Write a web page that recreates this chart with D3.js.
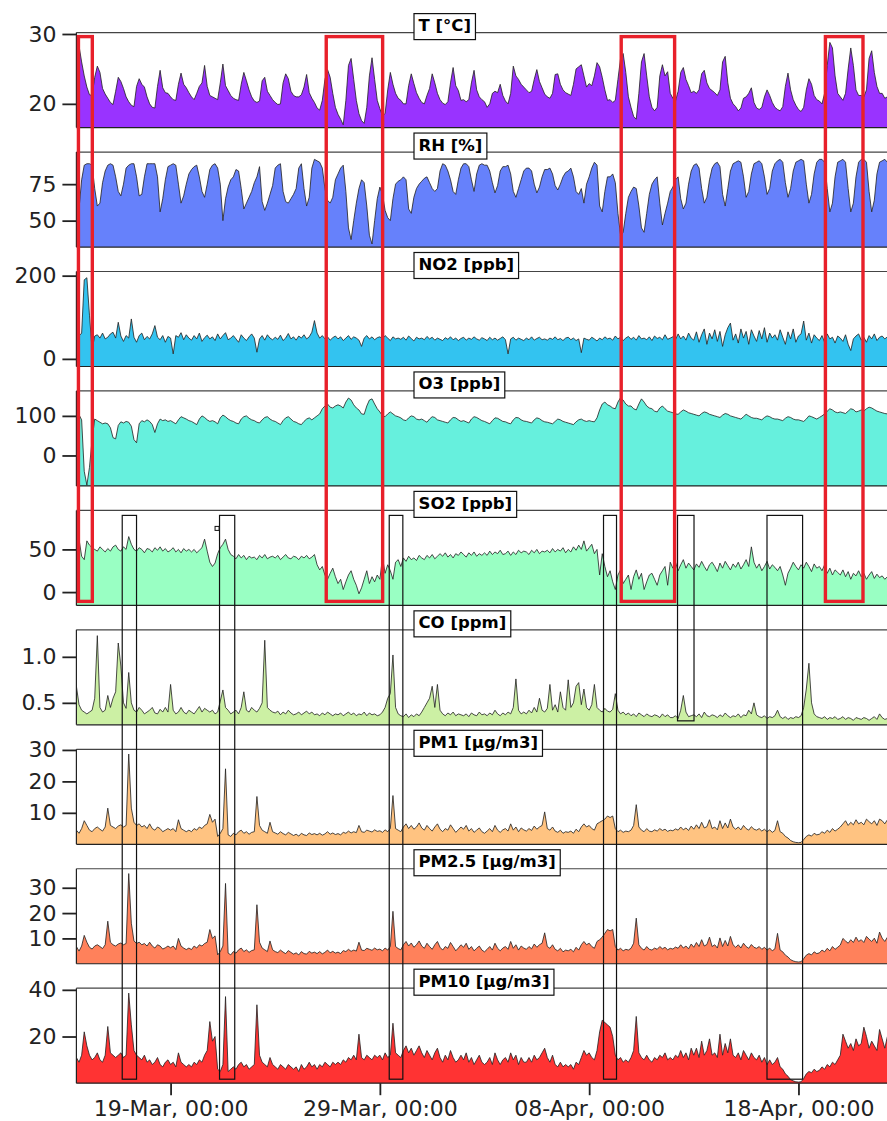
<!DOCTYPE html>
<html><head><meta charset="utf-8">
<script src="https://cdn.jsdelivr.net/npm/d3@7"></script>
<style>
body{margin:0;background:#fff;}
svg{display:block;font-family:"DejaVu Sans",sans-serif;}
</style></head><body>
<svg id="chart" width="887" height="1121"></svg>
<script>
// ---- time base: 3-hourly samples starting 14-Mar 12:00 ----
const startISO = "2023-03-14T12:00:00Z";
const stepHours = 3;
const endISO = "2023-04-22T06:00:00Z";

// ---- series values (3-hourly) ----
const T = [
29.5,28.3,26.0,24.0,
22.4,21.3,21.2,23.8,25.4,24.5,22.2,21.4,
20.8,20.2,19.9,21.8,23.8,23.2,22.2,21.0,
20.3,19.8,19.6,22.5,23.6,22.8,22.4,21.0,
20.0,19.5,19.4,22.5,24.8,22.3,21.6,21.5,
21.0,20.6,20.5,22.8,24.4,22.8,22.3,21.6,
21.0,20.6,21.5,22.5,23.0,25.5,22.5,21.2,
21.0,20.8,20.6,23.0,25.7,22.6,21.9,21.2,
20.8,20.6,20.5,22.8,24.5,23.3,22.0,21.0,
20.4,20.2,20.4,23.3,23.8,21.8,21.2,20.6,
20.2,19.9,20.0,23.0,24.3,23.6,21.8,21.2,
21.0,21.0,21.3,22.4,24.2,21.6,20.8,20.2,
19.4,19.1,20.5,23.5,24.9,23.8,21.5,19.5,
18.5,17.8,17.0,20.5,25.5,26.5,23.5,20.5,
18.6,17.6,17.2,19.5,24.0,26.6,23.5,20.5,
19.3,18.3,18.6,22.0,24.5,22.8,21.5,20.8,
20.5,20.0,20.0,22.6,24.3,22.9,21.6,20.8,
20.2,20.0,21.2,22.2,24.3,23.0,21.5,20.6,
20.1,19.9,20.3,23.0,25.2,22.6,21.9,20.5,
20.6,20.3,20.6,23.0,24.8,22.0,21.0,20.6,
20.3,19.5,20.0,21.5,21.8,21.6,22.8,21.2,
20.4,20.0,21.5,25.4,24.0,23.5,22.8,22.4,
22.0,21.6,21.8,23.5,24.9,23.2,22.3,21.4,
21.0,20.8,21.5,24.2,24.3,22.8,22.0,21.6,
21.4,21.2,22.8,25.0,25.3,25.6,24.0,22.4,
22.9,22.6,24.0,25.9,25.3,23.8,22.0,20.5,
20.6,20.2,20.5,23.5,26.5,27.2,24.5,21.0,
19.5,18.2,17.8,21.5,26.0,27.2,24.0,21.0,
19.5,19.0,19.5,24.0,25.6,24.0,24.6,21.5,
20.8,20.4,21.8,24.5,25.2,23.5,22.6,21.6,
21.8,21.5,22.0,24.3,24.8,23.0,22.2,21.9,
21.6,21.2,22.0,26.0,26.8,23.0,20.8,20.0,
19.6,19.0,19.4,20.8,21.0,21.5,22.3,20.2,
19.4,19.2,19.5,21.0,22.0,21.2,20.2,19.5,
19.2,19.0,19.6,22.5,24.4,22.0,20.6,19.8,
19.2,18.9,19.5,22.0,23.6,22.8,21.2,20.6,
20.4,20.0,21.5,25.5,28.8,28.0,24.0,21.5,
21.0,20.5,21.5,25.0,28.0,25.5,22.0,21.2,
21.2,21.0,22.0,26.5,27.6,24.5,22.5,21.5,
21.5,20.8,21.0];

const RH = [
50,58,78,88,
89,89,88,72,60,62,76,84,
88,89,88,80,70,67,75,86,
88,89,89,80,67,68,80,89,
89,89,89,80,56,65,78,87,
88,89,88,75,62,67,75,82,
85,87,88,80,70,66,75,85,
88,89,86,75,50,65,73,78,
80,85,84,72,58,62,66,70,
76,80,87,63,57,62,68,74,
86,88,89,70,63,62,65,68,
72,86,89,72,60,66,86,92,
91,90,86,72,64,62,66,78,
82,86,88,70,45,37,50,62,
72,78,76,60,40,34,50,65,
73,68,57,52,50,65,75,77,
78,80,78,58,55,66,72,75,
77,79,80,76,72,70,72,84,
89,88,84,78,70,68,78,86,
89,89,87,78,70,82,88,89,
88,88,84,76,69,74,84,87,
87,88,82,70,66,72,78,84,
86,86,84,75,69,73,80,85,
85,86,82,74,71,75,80,83,
84,86,80,70,68,72,62,75,
80,86,90,88,60,56,70,80,
80,82,76,55,40,42,55,66,
70,73,72,60,45,42,55,68,
75,78,80,62,47,55,62,70,
73,78,80,65,58,62,75,84,
88,89,86,72,62,66,78,86,
89,90,87,68,60,72,84,89,
90,91,90,80,66,70,82,89,
90,91,89,80,68,72,84,89,
91,92,90,76,66,72,84,90,
91,92,91,75,62,68,82,90,
92,92,90,72,56,62,80,90,
91,92,90,72,56,62,80,90,
92,92,90,70,56,64,82,90,
91,92,90];

const NO2 = [
35,55,62,190,
195,105,22,55,58,50,62,48,
52,60,64,50,88,55,42,56,
50,96,52,40,56,62,46,54,
48,60,80,52,46,56,40,54,
50,12,56,52,63,46,58,50,
45,56,48,62,42,51,57,48,
53,44,60,48,56,63,46,50,
56,48,40,58,50,44,53,60,
50,16,48,56,45,58,50,46,
52,47,57,44,50,61,48,53,
45,55,50,58,48,53,64,92,
62,50,56,48,53,45,51,55,
48,53,44,50,56,47,53,50,
45,30,50,56,48,53,46,51,
53,48,56,50,44,53,48,50,
47,52,45,55,49,43,52,48,
50,46,54,48,52,45,50,47,
44,51,47,53,46,50,44,49,
52,45,50,47,53,48,45,51,
48,44,52,46,50,45,49,53,
46,12,48,52,45,50,47,44,
50,46,53,45,49,52,46,48,
45,50,47,53,46,49,44,50,
52,46,50,44,48,15,50,47,
45,52,48,43,50,46,53,48,
50,45,55,48,52,44,50,54,
47,52,45,56,48,50,46,53,
44,55,49,52,46,58,47,50,
53,46,60,48,55,45,62,50,
45,65,40,58,72,35,62,48,
70,42,66,30,58,75,86,45,
60,38,72,50,66,35,70,55,
42,68,48,75,40,62,50,58,
45,70,52,35,65,48,72,40,
55,60,91,45,62,38,58,50,
44,56,40,60,48,52,38,55,
50,42,58,35,20,48,55,60,
45,52,40,56,48,60,44,52,
55,48,53];

const O3 = [
100,103,90,-40,
-75,-30,40,92,88,84,80,82,
80,70,45,42,76,85,82,86,
84,74,40,32,80,88,85,90,
86,78,58,80,92,88,90,86,
88,84,80,90,98,95,92,88,
86,82,78,92,100,96,90,86,
88,85,80,95,102,98,92,88,
86,82,80,92,98,100,94,90,
88,84,82,90,96,98,92,88,
86,82,78,88,95,98,92,86,
84,80,78,86,92,95,90,95,
100,105,118,125,130,122,120,125,
128,125,120,135,145,140,128,120,
115,105,104,125,140,143,130,118,
110,100,98,105,110,105,100,98,
95,90,88,95,100,98,92,90,
92,88,84,92,98,96,90,88,
86,84,82,90,96,95,90,86,
88,85,82,92,98,96,92,88,
86,83,80,88,95,94,90,86,
85,82,80,90,96,95,90,87,
86,84,82,90,95,93,88,85,
84,82,80,86,92,90,86,84,
82,80,78,85,90,92,88,86,
88,86,85,95,115,130,135,128,
125,120,118,135,146,140,130,125,
125,118,115,130,143,135,125,120,
118,112,110,120,125,118,112,110,
108,105,104,110,115,112,108,106,
104,102,100,106,110,108,104,102,
100,98,96,102,106,104,100,98,
96,94,92,98,104,100,96,94,
94,92,90,96,100,98,94,92,
92,90,88,94,98,96,92,90,
90,88,86,92,100,98,95,92,
96,100,105,112,118,115,110,108,
110,108,106,112,118,116,110,112,
115,112,118,122,120,116,112,110,
108,106,105];

const SO2 = [
83,62,42,38,
60,55,52,50,48,53,50,47,
51,48,53,55,50,48,53,50,
65,56,50,48,52,50,46,51,
50,47,52,49,53,48,51,47,
49,52,47,50,46,51,48,50,
47,50,46,49,52,62,48,35,
30,34,45,52,56,62,50,44,
42,39,44,40,43,38,42,40,
41,38,43,40,44,39,41,42,
40,43,38,41,44,40,39,42,
41,38,42,40,43,39,41,44,
32,26,30,20,15,22,28,18,
10,15,3,12,20,25,15,8,
-2,5,15,25,10,18,12,20,
15,40,22,32,25,15,35,38,
30,40,36,42,38,40,37,43,
40,38,43,40,44,39,42,45,
42,46,41,44,40,45,43,47,
44,41,46,43,47,42,45,43,
46,43,48,44,47,45,49,44,
45,48,43,47,44,49,46,48,
47,44,49,46,50,45,48,47,
49,46,51,47,50,48,52,46,
50,47,53,49,55,50,60,48,
52,56,45,50,20,45,30,18,
25,12,3,20,26,10,15,20,
3,18,26,15,22,3,12,20,
22,15,8,20,25,30,8,35,
28,35,25,32,38,28,34,30,
26,33,29,36,30,25,32,35,
30,24,34,28,36,31,26,33,
29,35,27,32,38,30,53,35,
28,33,25,30,36,27,32,29,
25,30,20,8,22,28,35,30,
26,32,28,35,30,24,33,28,
30,25,32,22,28,20,26,23,
20,26,18,24,15,22,19,25,
18,22,15,20,24,16,21,17,
19,15,18];

const CO = [
0.68,0.48,0.42,0.40,
0.38,0.40,0.42,0.55,1.23,0.45,0.40,0.42,
0.58,0.45,0.55,0.62,1.15,0.90,0.50,0.44,
0.83,0.50,0.42,0.40,0.45,0.42,0.38,0.40,
0.42,0.45,0.39,0.38,0.43,0.40,0.45,0.40,
0.70,0.42,0.38,0.40,0.45,0.40,0.38,0.42,
0.40,0.38,0.42,0.46,0.40,0.44,0.42,0.40,
0.42,0.38,0.40,0.52,0.64,0.45,0.42,0.38,
0.40,0.42,0.38,0.45,0.62,0.42,0.40,0.45,
0.42,0.40,0.44,0.50,1.18,0.45,0.42,0.40,
0.39,0.41,0.37,0.40,0.38,0.42,0.39,0.37,
0.38,0.40,0.37,0.39,0.41,0.38,0.40,0.37,
0.38,0.36,0.39,0.37,0.40,0.38,0.36,0.38,
0.37,0.39,0.36,0.38,0.40,0.37,0.39,0.36,
0.38,0.37,0.40,0.36,0.39,0.37,0.38,0.36,
0.37,0.40,0.45,0.55,0.60,1.02,0.45,0.38,
0.36,0.35,0.38,0.34,0.37,0.35,0.38,0.36,
0.40,0.45,0.50,0.55,0.68,0.45,0.70,0.42,
0.38,0.36,0.39,0.37,0.40,0.36,0.38,0.37,
0.36,0.38,0.35,0.39,0.37,0.36,0.40,0.37,
0.38,0.36,0.39,0.37,0.42,0.38,0.36,0.39,
0.37,0.40,0.38,0.45,0.76,0.42,0.38,0.40,
0.38,0.42,0.39,0.45,0.40,0.55,0.42,0.40,
0.44,0.70,0.42,0.48,0.40,0.62,0.45,0.42,
0.75,0.45,0.50,0.68,0.72,0.48,0.65,0.45,
0.42,0.48,0.70,0.45,0.42,0.40,0.44,0.41,
0.40,0.43,0.60,0.42,0.38,0.40,0.37,0.39,
0.36,0.38,0.35,0.39,0.37,0.35,0.38,0.36,
0.35,0.37,0.36,0.34,0.38,0.35,0.37,0.34,
0.34,0.36,0.33,0.42,0.58,0.40,0.35,0.36,
0.37,0.35,0.38,0.34,0.40,0.36,0.35,0.37,
0.36,0.34,0.37,0.35,0.39,0.36,0.34,0.36,
0.35,0.38,0.34,0.37,0.36,0.42,0.38,0.50,
0.37,0.35,0.34,0.36,0.33,0.35,0.34,0.36,
0.42,0.35,0.33,0.35,0.32,0.34,0.33,0.35,
0.34,0.36,0.45,0.65,0.93,0.50,0.38,0.35,
0.34,0.33,0.35,0.32,0.34,0.33,0.35,0.32,
0.33,0.35,0.32,0.34,0.33,0.31,0.34,0.33,
0.32,0.34,0.33,0.31,0.33,0.35,0.32,0.38,
0.34,0.32,0.33];

const PM1 = [
4.5,3.5,5.0,7.5,
6.0,4.5,4.0,5.0,5.5,4.8,4.2,5.5,
11.5,6.0,5.5,5.0,5.8,6.2,5.5,6.0,
28.7,11.5,7.0,6.0,6.5,5.5,6.0,5.0,
6.5,5.0,4.5,5.5,5.0,4.0,4.5,5.0,
4.5,5.0,4.0,7.8,5.0,4.5,4.0,4.5,
4.0,5.0,4.5,5.5,5.0,6.0,6.5,9.5,
7.0,8.0,2.5,3.5,5.0,24.0,3.0,2.5,
3.5,3.0,4.0,4.5,3.5,4.0,3.2,3.8,
4.0,15.2,6.0,4.5,4.0,3.5,7.0,4.0,
3.6,3.2,4.0,3.4,3.0,3.8,3.3,2.8,
3.2,2.6,3.5,3.0,2.8,3.6,3.1,3.4,
3.0,3.5,2.9,3.3,4.0,3.2,3.6,3.1,
3.4,3.0,3.8,3.5,4.2,3.6,4.0,3.7,
6.0,4.0,3.8,4.5,4.2,3.9,4.6,4.1,
4.3,3.8,4.6,4.0,5.0,15.5,5.0,4.5,
4.0,5.5,6.5,5.0,6.0,4.8,5.5,6.8,
5.2,4.5,6.0,5.0,4.2,5.5,6.5,4.8,
4.0,5.0,4.5,6.2,5.0,3.8,4.6,5.5,
4.8,6.0,4.2,5.0,3.8,4.5,5.2,4.0,
3.5,4.2,5.0,4.0,6.0,4.5,3.8,4.6,
5.0,4.2,6.5,4.5,5.5,4.0,5.2,4.6,
4.2,5.0,4.4,5.8,4.8,5.5,6.0,10.3,
5.0,4.5,5.5,4.2,3.8,4.5,3.5,4.0,
3.8,4.2,3.5,4.8,4.0,5.5,6.5,5.5,
6.0,5.0,4.5,6.5,7.0,7.5,8.0,9.0,
8.5,9.0,5.0,4.0,4.5,3.8,4.2,4.0,
4.5,6.0,12.6,5.5,4.5,4.0,5.0,4.2,
4.0,4.6,4.2,5.0,4.4,4.8,4.1,4.5,
4.3,4.9,4.5,5.5,4.6,5.2,4.4,5.8,
4.8,6.2,5.0,7.0,5.2,5.6,7.8,5.0,
5.5,4.6,7.5,5.0,6.8,5.2,8.0,5.5,
4.8,5.5,4.6,6.0,5.0,4.5,5.6,4.8,
4.5,5.0,4.2,4.8,4.0,4.6,3.8,4.4,
7.5,4.0,3.5,2.5,2.0,1.2,0.8,0.6,
0.5,0.6,1.5,2.5,3.0,2.6,3.5,3.0,
3.2,4.0,3.5,4.5,3.8,5.0,4.2,4.8,
5.5,6.5,7.5,6.0,7.0,6.2,7.8,6.5,
7.0,6.2,8.0,7.2,6.5,7.5,6.0,8.0,
7.5,6.5,7.8];

const PM25 = [
6.8,5.0,7.0,11.2,
8.5,6.5,5.8,7.0,7.5,6.8,6.0,7.5,
16.8,8.5,7.5,7.0,7.8,8.2,7.5,8.0,
35.6,16.0,9.0,8.0,8.5,7.5,8.0,7.0,
8.5,7.0,6.2,7.5,7.0,5.8,6.3,7.0,
6.3,7.0,5.6,10.0,7.0,6.2,5.6,6.2,
5.6,7.0,6.2,7.5,7.0,8.0,8.5,13.5,
10.0,11.0,3.5,4.8,7.0,31.7,4.2,3.5,
4.8,4.2,5.5,6.2,4.8,5.5,4.5,5.2,
5.5,23.3,8.5,6.2,5.5,4.8,9.0,5.5,
4.8,4.4,5.4,4.6,4.0,5.2,4.5,3.8,
4.3,3.5,4.8,4.0,3.8,4.9,4.2,4.6,
4.0,4.8,3.9,4.5,5.4,4.3,4.9,4.2,
4.6,4.0,5.2,4.8,5.7,4.9,5.4,5.0,
8.5,5.4,5.2,6.1,5.7,5.3,6.2,5.5,
5.8,5.1,6.2,5.4,6.8,20.7,6.8,6.0,
5.5,7.5,8.8,7.0,8.2,6.5,7.5,9.0,
7.0,6.1,8.1,6.8,5.7,7.5,8.8,6.5,
5.4,6.8,6.1,8.4,6.8,5.1,6.2,7.5,
6.5,8.1,5.7,6.8,5.1,6.1,7.0,5.4,
4.7,5.7,6.8,5.4,8.1,6.1,5.1,6.2,
6.8,5.7,8.8,6.1,7.5,5.4,7.0,6.2,
5.7,6.8,5.9,7.8,6.5,7.5,8.1,12.2,
6.8,6.1,7.5,5.7,5.1,6.1,4.7,5.4,
5.1,5.7,4.7,6.5,5.4,7.5,8.8,7.5,
8.1,6.8,6.1,8.8,9.5,10.5,12.0,13.5,
13.0,13.5,6.8,5.4,6.1,5.1,5.7,5.4,
6.1,8.1,18.0,7.5,6.1,5.4,6.8,5.7,
5.4,6.2,5.7,6.8,5.9,6.5,5.5,6.1,
5.8,6.6,6.1,7.5,6.2,7.0,5.9,7.8,
6.5,8.4,6.8,9.5,7.0,7.6,10.5,6.8,
7.5,6.2,10.2,6.8,9.2,7.0,10.8,7.5,
6.5,7.5,6.2,8.1,6.8,6.1,7.6,6.5,
6.1,6.8,5.7,6.5,5.4,6.2,5.1,5.9,
12.0,5.4,4.7,3.4,2.7,1.6,1.1,0.8,
0.7,0.8,2.0,3.4,4.0,3.5,4.7,4.0,
4.3,5.4,4.7,6.1,5.1,6.8,5.7,6.5,
7.4,10.0,9.0,8.1,9.5,8.4,10.5,8.8,
9.5,8.4,10.8,9.7,8.8,10.1,8.1,12.5,
10.1,8.8,10.5];

const PM10 = [
11,9,12,22,
16,12,10,11,13,10,9,12,
24.3,13,12,11,12,13,11,12,
38.6,25,14,12,11,10,12,9,
10,8,9,11,8,7,9,10,
8,9,7,13,9,8,7,8,
7,9,8,10,9,12,14,26.4,
18,20,6,5,8,37.1,5,6,
7,6,8,9,7,8,6,7,
8,33.6,12,9,8,7,11,8,
7,6,8,7,6,8,7,6,
7,5,8,6,7,9,7,8,
6,8,7,9,8,7,9,8,
9,8,10,9,11,10,12,10,
21,11,10,12,11,10,12,11,
12,10,13,11,12,25.7,13,12,
11,14,16,13,15,12,14,16,
13,11,14,12,10,13,15,11,
9,12,10,14,11,9,10,12,
10,13,9,11,8,10,12,9,
8,9,11,8,13,10,8,10,
11,9,13,10,12,8,11,9,
9,11,9,12,10,11,13,15,
11,9,12,8,7,9,7,8,
7,8,6,9,8,11,14,12,
13,11,10,14,22,27,26,25,
24,20,12,10,11,9,10,9,
11,14,28.6,13,11,10,12,10,
9,11,10,12,11,13,10,11,
10,12,11,14,11,13,10,15,
12,15,11,18,12,14,19,12,
13,11,21,12,17,13,19,12,
11,13,10,14,12,10,13,11,
10,12,9,11,8,10,8,9,
11,7,6,4,3,1.5,1,0.6,
0.5,0.6,2,4,5,4.5,6,5,
5.5,7,6,8,7,9,8,10,
12,21,18,15,17,14,19,16,
17,24,20,15,18,16,14,23,
19,15,20];

// ---- labels, axes ----
const seriesNames = ["T","RH","NO2","O3","SO2","CO","PM1","PM2.5","PM10"];
const panelLabels = ["T [°C]","RH [%]","NO2 [ppb]","O3 [ppb]","SO2 [ppb]","CO [ppm]","PM1 [µg/m3]","PM2.5 [µg/m3]","PM10 [µg/m3]"];
const yDomains = [[16.6,30.2],[31.9,97],[-18.3,210],[-77,163],[-15.6,95.7],[0.261,1.293],[0,30.2],[0,37.5],[0,40.7]];
const yTickValues = [[20,30],[50,75],[0,200],[0,100],[0,50],[0.5,1.0],[10,20,30],[10,20,30],[20,40]];
const yTickFormats = ["d","d","d","d","d",".1f","d","d","d"];
const xTickDates = ["2023-03-19T00:00:00Z","2023-03-29T00:00:00Z","2023-04-08T00:00:00Z","2023-04-18T00:00:00Z"];
const fillColors = ["#9933ff","#6681fb","#33c3f0","#66f0dd","#99ffc3","#ccf0a4","#ffc381","#ff815b","#ff3333"];

// highlighted periods
const redPeriods = [
 ["2023-03-14T14:20:00Z","2023-03-15T06:15:00Z"],
 ["2023-03-26T10:30:00Z","2023-03-29T03:10:00Z"],
 ["2023-04-09T12:45:00Z","2023-04-12T02:00:00Z"],
 ["2023-04-19T06:55:00Z","2023-04-21T02:00:00Z"]];
const blackPeriods = [
 ["2023-03-16T16:33:00Z","2023-03-17T08:57:00Z", 8],
 ["2023-03-21T08:08:00Z","2023-03-22T01:34:00Z", 8],
 ["2023-03-29T10:44:00Z","2023-03-30T02:20:00Z", 8],
 ["2023-04-08T16:28:00Z","2023-04-09T07:22:00Z", 8],
 ["2023-04-12T05:20:00Z","2023-04-13T00:14:00Z", 5],
 ["2023-04-16T11:56:00Z","2023-04-18T04:45:00Z", 8]];

const allSeries = [T,RH,NO2,O3,SO2,CO,PM1,PM25,PM10];

// ---- layout ----
const W = 887, H = 1121;
const left = 76.4, right = 887.4;
const panelTop0 = 32.6, panelStep = 119.45, panelH = 95;
const tickFont = 22;

const svg = d3.select("#chart");
const t0 = new Date(startISO).getTime();
const times = T.map((_, i) => new Date(t0 + i * stepHours * 3600e3));

const x = d3.scaleUtc().domain([new Date(startISO), new Date(endISO)]).range([left, right]);

svg.append("defs").append("clipPath").attr("id","clipAll")
  .append("rect").attr("x", left).attr("y", 0).attr("width", right-left).attr("height", H);

const panelTop = i => panelTop0 + i*panelStep;
const panelBottom = i => panelTop(i) + panelH;

allSeries.forEach((vals, i) => {
  const top = panelTop(i), bot = panelBottom(i);
  const y = d3.scaleLinear().domain(yDomains[i]).range([bot, top]);
  const g = svg.append("g");
  const data = vals.map((v, k) => ({t: times[k], v}));
  const area = d3.area().x(d => x(d.t)).y0(bot).y1(d => y(d.v));
  const line = d3.line().x(d => x(d.t)).y(d => y(d.v));
  const pg = g.append("g").attr("clip-path","url(#clipAll)");
  pg.append("path").datum(data).attr("d", area).attr("fill", fillColors[i]);
  pg.append("path").datum(data).attr("d", line).attr("fill","none")
    .attr("stroke","#222").attr("stroke-width",0.9).attr("stroke-opacity",0.9);
  // spines
  g.append("line").attr("x1",left).attr("x2",W).attr("y1",top).attr("y2",top).attr("stroke","#444").attr("stroke-width",1.2);
  g.append("line").attr("x1",left).attr("x2",W).attr("y1",bot).attr("y2",bot).attr("stroke","#222").attr("stroke-width",1.2);
  g.append("line").attr("x1",left).attr("x2",left).attr("y1",top).attr("y2",bot).attr("stroke","#222").attr("stroke-width",1.2);
  // y axis
  const ax = g.append("g").attr("transform",`translate(${left},0)`)
    .call(d3.axisLeft(y).tickValues(yTickValues[i]).tickFormat(d3.format(yTickFormats[i])).tickSize(14).tickPadding(6));
  ax.select(".domain").remove();
  ax.selectAll(".tick line").attr("stroke","#222").attr("stroke-width",1.8);
  ax.selectAll(".tick text").attr("font-size",tickFont).attr("fill","#222").attr("font-family","DejaVu Sans");
  // label box
  const lg = g.append("g");
  const txt = lg.append("text").attr("x", 418.5).attr("y", top - 1.5)
    .attr("font-size",16.5).attr("font-weight","bold").attr("fill","#000").text(panelLabels[i]);
  const tw = txt.node().getComputedTextLength();
  lg.insert("rect","text").attr("x",414).attr("y",top-19).attr("width",tw+9).attr("height",26)
    .attr("fill","#fff").attr("stroke","#111").attr("stroke-width",1.2);
});

// x axis
const xa = svg.append("g").attr("transform",`translate(0,${panelBottom(8)})`)
  .call(d3.axisBottom(x).tickValues(xTickDates.map(s => new Date(s))).tickFormat(d3.utcFormat("%d-%b, %H:%M")).tickSize(12).tickPadding(5));
xa.select(".domain").remove();
xa.selectAll(".tick line").attr("stroke","#222").attr("stroke-width",1.8);
xa.selectAll(".tick text").attr("font-size",tickFont).attr("fill","#222").attr("font-family","DejaVu Sans");

// highlight rectangles
const hl = svg.append("g");
redPeriods.forEach(p => {
  const x0 = x(new Date(p[0])), x1 = x(new Date(p[1]));
  hl.append("rect").attr("x",x0).attr("y",panelTop(0)+4).attr("width",x1-x0)
    .attr("height",panelBottom(4)-4-(panelTop(0)+4))
    .attr("fill","none").attr("stroke","#e8202a").attr("stroke-width",3.4);
});
blackPeriods.forEach(p => {
  const x0 = x(new Date(p[0])), x1 = x(new Date(p[1]));
  const yTop = panelTop(4)+5, yBot = panelBottom(p[2]) - 4;
  hl.append("rect").attr("x",x0).attr("y",yTop).attr("width",x1-x0).attr("height",yBot-yTop)
    .attr("fill","none").attr("stroke","#111").attr("stroke-width",1.2);
});
// tiny marker beside second black box
{
  const xm = x(new Date("2023-03-21T03:00:00Z"));
  hl.append("rect").attr("x",xm).attr("y",panelTop(4)+16).attr("width",4).attr("height",4)
    .attr("fill","#fff").attr("stroke","#111").attr("stroke-width",1);
}
</script>
</body></html>
